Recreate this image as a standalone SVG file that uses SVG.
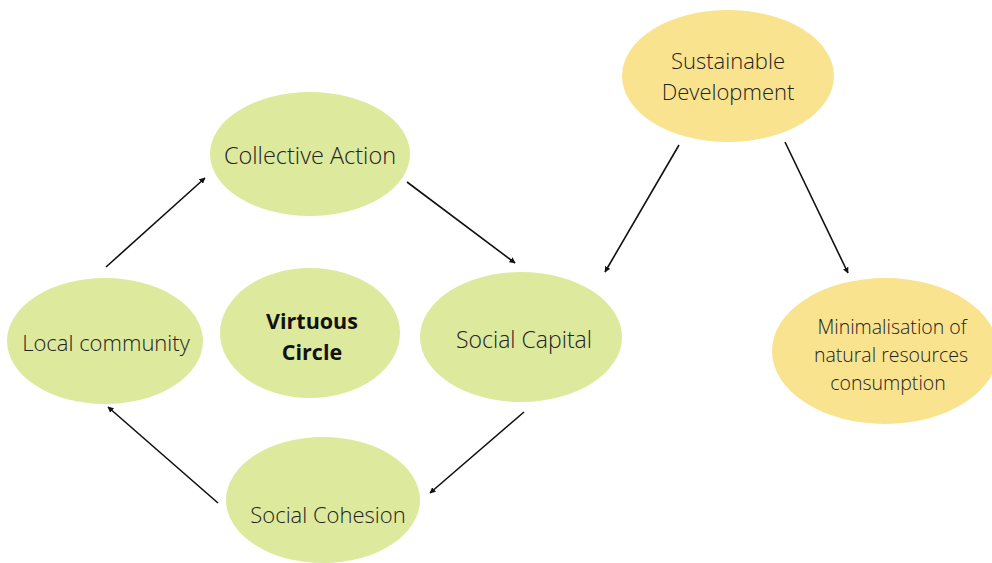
<svg xmlns="http://www.w3.org/2000/svg" width="992" height="563" viewBox="0 0 992 563">
<defs>
<marker id="ah" viewBox="0 0 10 10" refX="9" refY="5" markerWidth="6" markerHeight="6" orient="auto" markerUnits="userSpaceOnUse">
<path d="M0,0 L10,5 L0,10 z" fill="#111"/>
</marker>
<clipPath id="top"><rect x="0" y="10" width="992" height="553"/></clipPath>
</defs>
<style>
.g{fill:#dde99d}
.y{fill:#f9e38f}
text{font-family:"Open Sans","Noto Sans","Liberation Sans",sans-serif;font-weight:300;fill:#222;text-anchor:middle;dominant-baseline:central}
.t{font-size:22px}
.s{font-size:19.5px}
.b{font-size:21.5px;font-weight:bold;fill:#111}
.c line{stroke:#111;stroke-width:1.6;marker-end:url(#ah)}
</style>
<rect width="992" height="563" fill="#fff"/>
<g id="sustainable">
<ellipse class="y" cx="728" cy="76" rx="106" ry="66" clip-path="url(#top)"/>
<text class="t" x="728" y="60">Sustainable</text>
<text class="t" x="728" y="91">Development</text>
</g>
<g id="collective">
<ellipse class="g" cx="310" cy="154" rx="100" ry="62"/>
<text class="t" x="310" y="155" style="font-size:23.5px">Collective Action</text>
</g>
<g id="local">
<ellipse class="g" cx="105" cy="341" rx="98" ry="63"/>
<text class="t" x="106" y="342">Local community</text>
</g>
<g id="virtuous">
<ellipse class="g" cx="310" cy="333" rx="90" ry="65"/>
<text class="b" x="312" y="320">Virtuous</text>
<text class="b" x="312" y="351">Circle</text>
</g>
<g id="capital">
<ellipse class="g" cx="521" cy="337" rx="101" ry="65"/>
<text class="t" x="524" y="339" style="font-size:23px">Social Capital</text>
</g>
<g id="cohesion">
<ellipse class="g" cx="323" cy="500" rx="97" ry="63"/>
<text class="t" x="328" y="514">Social Cohesion</text>
</g>
<g id="minimalisation">
<ellipse class="y" cx="885" cy="351" rx="113" ry="73"/>
<text class="s" x="892" y="326">Minimalisation of</text>
<text class="s" x="891" y="354">natural resources</text>
<text class="s" x="888" y="382">consumption</text>
</g>
<g class="c" id="connectors">
<line x1="106" y1="267" x2="205" y2="178"/>
<line x1="407" y1="182" x2="515" y2="263"/>
<line x1="679" y1="145" x2="605" y2="272"/>
<line x1="785" y1="142" x2="848" y2="273"/>
<line x1="524" y1="412" x2="430" y2="493"/>
<line x1="218" y1="503" x2="108" y2="407"/>
</g>
</svg>
